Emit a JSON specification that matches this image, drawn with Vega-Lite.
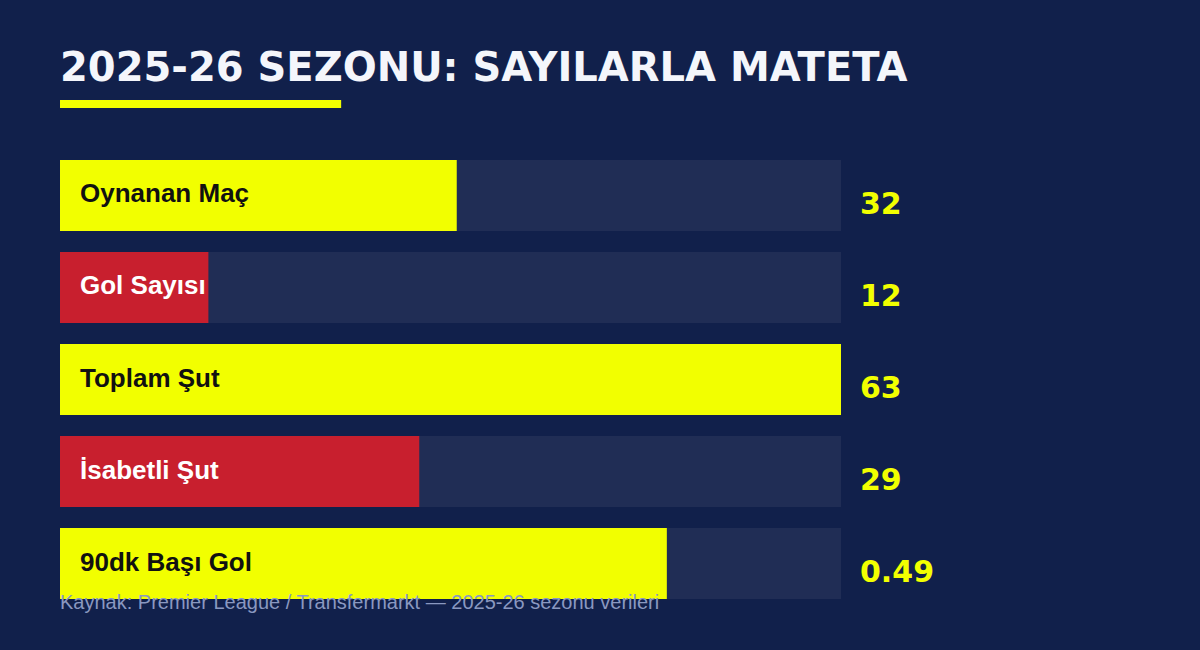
{
  "$schema": "https://vega.github.io/schema/vega-lite/v6.json",
  "background": "#11204b",
  "padding": {"left": 60, "top": 49, "right": 265, "bottom": 39},
  "config": {"view": {"stroke": null}},
  "spacing": 52,
  "vconcat": [
    {
      "width": 781,
      "height": 8,
      "title": {
        "text": "2025-26 SEZONU: SAYILARLA MATETA",
        "anchor": "start",
        "font": "DejaVu Sans",
        "fontSize": 40,
        "fontWeight": "bold",
        "color": "#f4f6fb",
        "baseline": "alphabetic",
        "offset": -21
      },
      "data": {"values": [{"start": 0, "end": 36}]},
      "mark": {"type": "rect", "color": "#f2ff00"},
      "encoding": {
        "x": {"field": "start", "type": "quantitative", "scale": {"domain": [0, 100], "nice": false}, "axis": null},
        "x2": {"field": "end"}
      }
    },
    {
      "width": 781,
      "height": 439,
      "title": {
        "text": "Kaynak: Premier League / Transfermarkt — 2025-26 sezonu verileri",
        "orient": "bottom",
        "anchor": "start",
        "font": "Liberation Sans",
        "fontSize": 20,
        "fontWeight": "normal",
        "color": "#8a98c0",
        "baseline": "alphabetic",
        "offset": 10
      },
      "data": {
        "values": [
          {"stat": "Oynanan Maç", "value": 32, "share": 50.8},
          {"stat": "Gol Sayısı", "value": 12, "share": 19.0},
          {"stat": "Toplam Şut", "value": 63, "share": 100},
          {"stat": "İsabetli Şut", "value": 29, "share": 46.0},
          {"stat": "90dk Başı Gol", "value": 0.49, "share": 77.7}
        ]
      },
      "encoding": {
        "y": {
          "field": "stat",
          "type": "nominal",
          "sort": null,
          "axis": null,
          "scale": {"paddingInner": 0.2283, "paddingOuter": 0}
        }
      },
      "layer": [
        {
          "mark": {"type": "bar", "color": "#202d55"},
          "encoding": {
            "x": {"datum": 100, "type": "quantitative", "scale": {"domain": [0, 100], "nice": false}, "axis": null}
          }
        },
        {
          "mark": {"type": "bar"},
          "encoding": {
            "x": {"field": "share", "type": "quantitative"},
            "color": {
              "field": "stat",
              "type": "nominal",
              "sort": null,
              "legend": null,
              "scale": {
                "domain": ["Oynanan Maç", "Gol Sayısı", "Toplam Şut", "İsabetli Şut", "90dk Başı Gol"],
                "range": ["#f2ff00", "#c81f2e", "#f2ff00", "#c81f2e", "#f2ff00"]
              }
            }
          }
        },
        {
          "mark": {
            "type": "text",
            "align": "left",
            "baseline": "alphabetic",
            "dx": 20,
            "dy": 7,
            "font": "Liberation Sans",
            "fontSize": 26,
            "fontWeight": "bold"
          },
          "encoding": {
            "x": {"datum": 0, "type": "quantitative"},
            "text": {"field": "stat"},
            "color": {
              "field": "stat",
              "type": "nominal",
              "legend": null,
              "scale": {
                "domain": ["Oynanan Maç", "Gol Sayısı", "Toplam Şut", "İsabetli Şut", "90dk Başı Gol"],
                "range": ["#111111", "#ffffff", "#111111", "#ffffff", "#111111"]
              }
            }
          }
        },
        {
          "mark": {
            "type": "text",
            "align": "left",
            "baseline": "alphabetic",
            "dx": 19,
            "dy": 18.5,
            "font": "DejaVu Sans",
            "fontSize": 30,
            "fontWeight": "bold",
            "color": "#f2ff00"
          },
          "encoding": {
            "x": {"datum": 100, "type": "quantitative"},
            "text": {"field": "value", "type": "quantitative"}
          }
        }
      ],
      "resolve": {"scale": {"color": "independent"}}
    }
  ]
}
